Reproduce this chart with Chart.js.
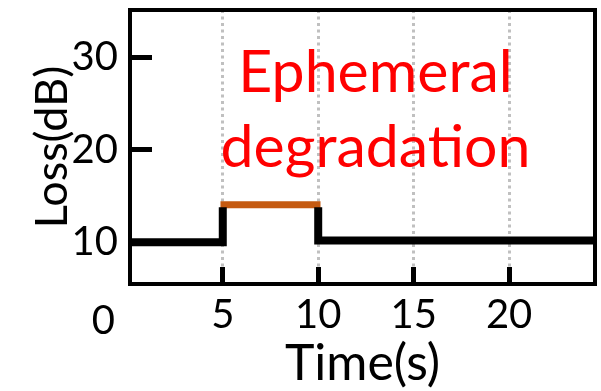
<!DOCTYPE html>
<html>
<head>
<meta charset="utf-8">
<script src="https://cdn.jsdelivr.net/npm/chart.js@4.4.0/dist/chart.umd.min.js"></script>
<style>
  html, body { margin: 0; padding: 0; background: #fff; }
  #wrap { width: 601px; height: 391px; position: relative; }
</style>
</head>
<body>
<div id="wrap"><canvas id="lossChart"></canvas></div>
<script>
// values
const baseTime = [0.2, 5, 5, 7.5, 10, 10, 24.4];
const baseLoss = [10, 10, 13.8, null, 13.8, 10.2, 10.2];
const degTime = [4.88, 10.12];
const degLoss = [14.05, 14.05];
const xTicks = [5, 10, 15, 20];
const yTicks = [10, 20, 30];
const xRange = [0.14, 24.5];
const yRange = [5.49, 35.11];

const FONT = 'Lato, "Open Sans", sans-serif';

function toPoints(xs, ys) {
    return xs.map((x, i) => ({ x: x, y: ys[i] }));
}

// frame, the odd "0" label and the red annotation
const extras = {
    id: 'extras',
    afterDraw(chart) {
        const { ctx, chartArea: a, scales: { x, y } } = chart;
        ctx.save();
        ctx.strokeStyle = '#000';
        ctx.lineWidth = 4;
        ctx.strokeRect(a.left, a.top, a.right - a.left, a.bottom - a.top);

        ctx.fillStyle = '#000';
        ctx.font = '40px ' + FONT;
        ctx.textAlign = 'center';
        ctx.textBaseline = 'middle';
        ctx.fillText('0', x.getPixelForValue(0) - 24, 321);

        ctx.fillStyle = '#ff0000';
        ctx.font = '59px ' + FONT;
        ctx.textBaseline = 'alphabetic';
        ctx.fillText('Ephemeral', x.getPixelForValue(13), y.getPixelForValue(26.2));
        ctx.fillText('degradation', x.getPixelForValue(13), y.getPixelForValue(18.1));
        ctx.restore();
    }
};

document.addEventListener('DOMContentLoaded', function() {
    const ctx = document.getElementById('lossChart').getContext('2d');

    new Chart(ctx, {
        type: 'line',
        data: {
            datasets: [{
                label: 'Loss',
                data: toPoints(baseTime, baseLoss),
                borderColor: '#000',
                borderWidth: 8,
                pointRadius: 0,
                spanGaps: false,
                borderCapStyle: 'butt',
                borderJoinStyle: 'miter'
            }, {
                label: 'Ephemeral degradation',
                data: toPoints(degTime, degLoss),
                borderColor: '#c55a11',
                borderWidth: 7,
                pointRadius: 0,
                borderCapStyle: 'butt'
            }]
        },
        plugins: [extras],
        options: {
            responsive: true,
            maintainAspectRatio: false,
            animation: false,
            layout: { padding: { top: 10, right: 6, left: 0, bottom: 0 } },
            plugins: {
                legend: { display: false },
                tooltip: { enabled: false }
            },
            scales: {
                x: {
                    type: 'linear',
                    min: xRange[0],
                    max: xRange[1],
                    afterBuildTicks: s => { s.ticks = xTicks.map(v => ({ value: v })); },
                    afterFit: s => { s.height = 107; s.paddingLeft = 0; s.paddingRight = 0; },
                    grid: {
                        color: '#c0c0c0',
                        lineWidth: 3,
                        tickLength: -17,
                        tickColor: '#000',
                        tickWidth: 5
                    },
                    border: { display: false, dash: [3, 3.5] },
                    ticks: {
                        color: '#000',
                        font: { family: FONT, size: 40 },
                        padding: 24,
                        maxRotation: 0
                    },
                    title: {
                        display: true,
                        text: 'Time(s)',
                        color: '#000',
                        font: { family: FONT, size: 50 },
                        padding: { top: 0, bottom: -3 }
                    }
                },
                y: {
                    min: yRange[0],
                    max: yRange[1],
                    afterBuildTicks: s => { s.ticks = yTicks.map(v => ({ value: v })); },
                    afterFit: s => { s.width = 130; s.paddingTop = 0; s.paddingBottom = 0; },
                    grid: {
                        drawOnChartArea: false,
                        tickLength: -22,
                        tickColor: '#000',
                        tickWidth: 5
                    },
                    border: { display: false },
                    ticks: {
                        color: '#000',
                        font: { family: FONT, size: 40 },
                        padding: 34
                    },
                    title: {
                        display: true,
                        text: 'Loss(dB)',
                        color: '#000',
                        font: { family: FONT, size: 45 },
                        padding: { top: 25, bottom: 0 }
                    }
                }
            }
        }
    });
});
</script>
</body>
</html>
